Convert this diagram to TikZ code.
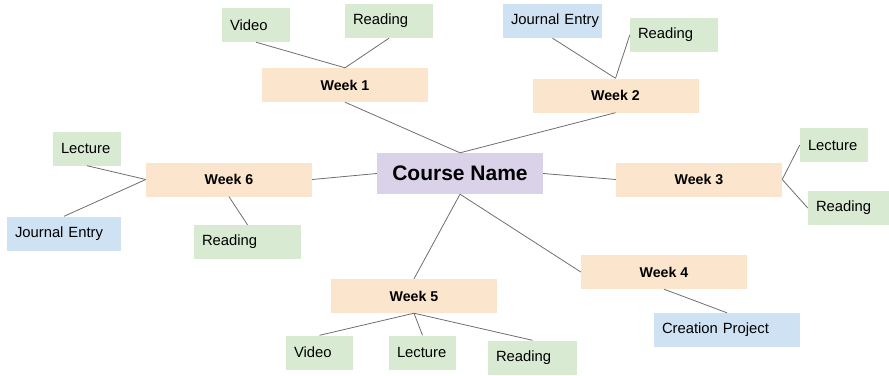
\documentclass[tikz,border=0pt]{standalone}
\usepackage{fontspec}
\setmainfont{Liberation Sans}
\definecolor{weekfill}{HTML}{FCE5CD}
\definecolor{leafgreen}{HTML}{D9EAD3}
\definecolor{leafblue}{HTML}{CFE2F3}
\definecolor{coursefill}{HTML}{D9D2E9}
\definecolor{linkgray}{HTML}{6E6E6E}
\begin{document}
\begin{tikzpicture}[x=1pt,y=-1pt,
  week/.style={fill=weekfill, draw=none, minimum width=166pt, minimum height=34pt, inner sep=0pt,
    font=\fontsize{14.2}{17}\selectfont\bfseries},
  course/.style={fill=coursefill, draw=none, minimum width=166pt, minimum height=41pt, inner sep=0pt,
    font=\fontsize{21}{25}\selectfont\bfseries},
  leaf/.style={draw=none, minimum height=34pt, inner xsep=8pt, inner ysep=0pt, align=left,
    text width=#1-16pt, font=\fontsize{14.8}{17}\selectfont},
  green/.style={leaf=#1, fill=leafgreen},
  blue/.style={leaf=#1, fill=leafblue},
  link/.style={draw=linkgray, line width=0.8pt}]
\useasboundingbox (0,0) rectangle (889,375);
% central
\node[course] (course) at (460,173.5) {Course Name};
% weeks
\node[week] (w1) at (345,85) {Week 1};
\node[week] (w2) at (615.5,95.5) {Week 2};
\node[week] (w3) at (699,179.5) {Week 3};
\node[week] (w4) at (664,272) {Week 4};
\node[week] (w5) at (414,296) {Week 5};
\node[week] (w6) at (229,179.5) {Week 6};
% leaves
\node[green=68pt] (v1) at (256,25) {Video};
\node[green=88pt] (r1) at (389,21) {Reading};
\node[blue=99pt] (j2) at (552.5,21) {\mbox{Journal Entry}};
\node[green=88pt] (r2) at (674,35) {Reading};
\node[green=68pt] (l3) at (834,145) {Lecture};
\node[green=88pt] (r3) at (852,208) {Reading};
\node[blue=146pt] (c4) at (727,330) {\mbox{Creation Project}};
\node[green=67pt] (v5) at (319.5,352.5) {Video};
\node[green=67pt] (l5) at (422.5,352.5) {Lecture};
\node[green=89pt] (r5) at (532.5,357.5) {Reading};
\node[green=68pt] (l6) at (87,148.5) {Lecture};
\node[blue=114pt] (j6) at (64,233.5) {\mbox{Journal Entry}};
\node[green=107pt] (r6) at (247.5,242) {Reading};
% connectors
\draw[link] (v1.south) -- (w1.north);
\draw[link] (r1.south) -- (w1.north);
\draw[link] (j2.south) -- (w2.north);
\draw[link] (r2.west) -- (w2.north);
\draw[link] (w1.south) -- (course.north);
\draw[link] (w2.south) -- (course.north);
\draw[link] (course.west) -- (w6.east);
\draw[link] (course.east) -- (w3.west);
\draw[link] (w3.east) -- (l3.west);
\draw[link] (w3.east) -- (r3.west);
\draw[link] (course.south) -- (w5.north);
\draw[link] (course.south) -- (w4.west);
\draw[link] (w4.south) -- (c4.north);
\draw[link] (w5.south) -- (v5.north);
\draw[link] (w5.south) -- (l5.north);
\draw[link] (w5.south) -- (r5.north);
\draw[link] (w6.west) -- (l6.south);
\draw[link] (w6.west) -- (j6.north);
\draw[link] (w6.south) -- (r6.north);
\end{tikzpicture}
\end{document}
